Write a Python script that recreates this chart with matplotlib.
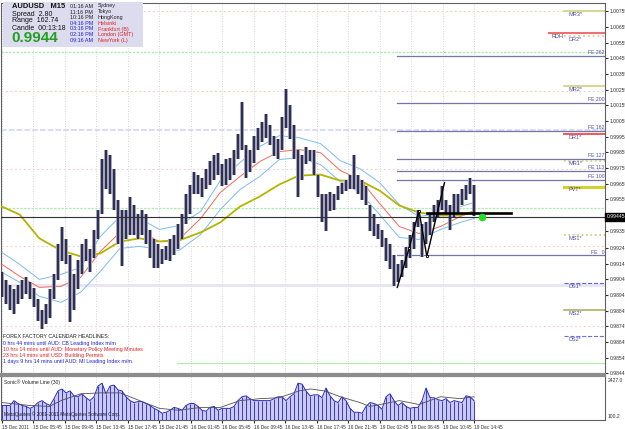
import numpy as np
import matplotlib
matplotlib.use("Agg")
import matplotlib.pyplot as plt
import matplotlib.transforms as mtrans

plt.rcParams['font.family'] = ['Liberation Sans', 'DejaVu Sans']

# candles, one every ~2 M15 bars (15 Dec 2011 -> 19 Dec 14:45)
highs = [0.9909, 0.9904, 0.9901, 0.9898, 0.9901, 0.9904, 0.9906, 0.9903, 0.9899, 0.9892,
         0.9885, 0.9889, 0.9898, 0.9908, 0.9927, 0.9938, 0.9930, 0.9920, 0.9908, 0.9917,
         0.9927, 0.9930, 0.9924, 0.9936, 0.9949, 0.9981, 0.9987, 0.9984, 0.9975, 0.9955,
         0.9949, 0.9949, 0.9957, 0.9952, 0.9946, 0.9949, 0.9946, 0.9936, 0.9930, 0.9927,
         0.9924, 0.9926, 0.9930, 0.9933, 0.9940, 0.9946, 0.9959, 0.9965, 0.9973, 0.9971,
         0.9969, 0.9975, 0.9980, 0.9984, 0.9985, 0.9978, 0.9981, 0.9982, 0.9987, 0.9997,
         1.0018, 0.9990, 0.9987, 0.9996, 1.0001, 1.0005, 1.0010, 1.0003, 0.9996, 0.9994,
         1.0008, 1.0026, 1.0016, 1.0003, 0.9987, 0.9984, 0.9989, 0.9987, 0.9987, 0.9971,
         0.9959, 0.9959, 0.9960, 0.9959, 0.9964, 0.9966, 0.9968, 0.9971, 0.9984, 0.9971,
         0.9968, 0.9964, 0.9952, 0.9946, 0.9940, 0.9936, 0.9931, 0.9927, 0.9920, 0.9914,
         0.9917, 0.9925, 0.9933, 0.9941, 0.9949, 0.9940, 0.9941, 0.9946, 0.9952, 0.9955,
         0.9964, 0.9955, 0.9952, 0.9959, 0.9959, 0.9962, 0.9965, 0.9969, 0.9965]
lows = [0.9893, 0.9889, 0.9885, 0.9882, 0.9889, 0.9892, 0.9895, 0.9892, 0.9887, 0.9878,
        0.9873, 0.9876, 0.9880, 0.9892, 0.9904, 0.9916, 0.9914, 0.9877, 0.9885, 0.9898,
        0.9908, 0.9916, 0.9909, 0.9918, 0.9930, 0.9946, 0.9962, 0.9959, 0.9949, 0.9927,
        0.9913, 0.9930, 0.9933, 0.9933, 0.9930, 0.9933, 0.9927, 0.9918, 0.9912, 0.9912,
        0.9914, 0.9917, 0.9916, 0.9920, 0.9924, 0.9930, 0.9940, 0.9946, 0.9959, 0.9959,
        0.9957, 0.9962, 0.9965, 0.9968, 0.9971, 0.9964, 0.9965, 0.9968, 0.9971, 0.9981,
        0.9987, 0.9969, 0.9973, 0.9979, 0.9987, 0.9992, 0.9995, 0.9990, 0.9983, 0.9981,
        0.9987, 1.0001, 0.9994, 0.9981, 0.9957, 0.9968, 0.9978, 0.9980, 0.9971, 0.9957,
        0.9941, 0.9935, 0.9948, 0.9949, 0.9955, 0.9959, 0.9961, 0.9962, 0.9962, 0.9959,
        0.9955, 0.9952, 0.9935, 0.9932, 0.9930, 0.9925, 0.9916, 0.9911, 0.9900, 0.9903,
        0.9906, 0.9912, 0.9918, 0.9924, 0.9938, 0.9919, 0.9927, 0.9933, 0.9941, 0.9944,
        0.9949, 0.9946, 0.9936, 0.9944, 0.9946, 0.9952, 0.9955, 0.9959, 0.9945]
volume = [876, 876, 876, 1153, 987, 876, 820, 710, 820, 1042,
          1153, 987, 876, 1264, 1707, 1818, 1596, 1707, 1430, 1374,
          1541, 1319, 1153, 1374, 1984, 2150, 1541, 1984, 2039, 1762,
          1707, 1374, 1153, 1042, 1097, 1097, 987, 876, 710, 599,
          432, 488, 599, 765, 710, 599, 876, 987, 987, 820,
          599, 543, 765, 820, 599, 710, 710, 710, 820, 1153,
          1374, 1430, 1264, 1153, 1153, 1153, 1153, 1153, 1264, 1374,
          1374, 1153, 1374, 1541, 2150, 2094, 1707, 1430, 1485, 1485,
          1319, 1873, 1430, 1153, 1042, 1374, 1153, 710, 488, 488,
          432, 820, 1042, 987, 876, 654, 1374, 1541, 1153, 876,
          1042, 820, 710, 765, 765, 1153, 1873, 1319, 1319, 1208,
          1153, 1264, 1042, 1153, 1097, 1042, 1430, 1374, 1153]

# indicator lines (bar positions, price)
ind_bars = [0, 9, 19, 30, 40, 50, 60, 70, 80, 90, 101, 111, 121, 131, 141, 151, 162, 172,
            182, 192, 202, 212, 223, 233, 240]
ma_slow = [0.99509, 0.99458, 0.99306, 0.99229, 0.99191, 0.99210, 0.99286, 0.99306, 0.99286,
           0.99293, 0.99344, 0.99408, 0.99509, 0.99573, 0.99650, 0.99707, 0.99713, 0.99675,
           0.99675, 0.99611, 0.99516, 0.99471, 0.99452, 0.99452, 0.99478]
ma_mid = [0.99140, 0.99064, 0.98993, 0.99000, 0.99057, 0.99223, 0.99344, 0.99350, 0.99286,
          0.99299, 0.99433, 0.99599, 0.99701, 0.99796, 0.99860, 0.99873, 0.99853, 0.99739,
          0.99681, 0.99529, 0.99382, 0.99337, 0.99382, 0.99446, 0.99478]
band_up = [0.99216, 0.99140, 0.99044, 0.99076, 0.99121, 0.99318, 0.99446, 0.99433, 0.99363,
           0.99388, 0.99478, 0.99675, 0.99790, 0.99892, 0.99962, 0.99949, 0.99911, 0.99802,
           0.99751, 0.99662, 0.99522, 0.99446, 0.99465, 0.99509, 0.99535]
band_dn = [0.99089, 0.99025, 0.98936, 0.98898, 0.98962, 0.99095, 0.99242, 0.99255, 0.99236,
           0.99229, 0.99331, 0.99490, 0.99618, 0.99701, 0.99809, 0.99822, 0.99777, 0.99669,
           0.99599, 0.99458, 0.99312, 0.99299, 0.99363, 0.99408, 0.99433]

vol_ma_bars = [0, 14, 24, 30, 40, 50, 60, 70, 80, 90, 101, 111, 121, 131, 141, 151, 157, 164,
               172, 182, 187, 195, 202, 212, 223, 233, 240]
vol_ma = [1042, 876, 820, 1153, 1541, 1596, 1596, 1153, 710, 599, 765, 765, 1153, 1264, 1319,
          1707, 1818, 1707, 1374, 1042, 820, 987, 1153, 931, 1374, 1264, 1374]

# zigzag
zz_bars = [201, 207, 212, 216, 225]
zz_price = [0.98993, 0.99242, 0.99484, 0.99191, 0.99662]

# pivot levels (right side)
piv_names = ['MR3*', 'DR2*', 'MR2*', 'DR1*', 'MR1*', 'PVT*', 'MS1*', 'DS1*', 'MS2*', 'DS2*']
piv_price = [1.00758, 1.00599, 1.00280, 0.99974, 0.99802, 0.99637, 0.99325, 0.99019, 0.98847, 0.98681]
rdh_price = 1.00618

fe_names = ['FE 262', 'FE 200', 'FE 162', 'FE 127', 'FE 113', 'FE 100', 'FE   0']
fe_price = [1.00471, 1.00172, 0.99994, 0.99815, 0.99739, 0.99681, 0.99197]

pink_levels = [1.00758, 1.00248, 0.99751, 0.99255, 0.98745]
green_levels = [1.00497, 0.99497]
lav_levels = [1.00000, 0.99006]
low_green = 0.98509

bid = 0.99445
last_bar = 240

price_ticks = [1.00755, 1.00655, 1.00555, 1.00455, 1.00355, 1.00255, 1.00155, 1.00055, 0.99955,
               0.99855, 0.99755, 0.99655, 0.99555, 0.99355, 0.99245, 0.99145, 0.99045, 0.98945,
               0.98845, 0.98745, 0.98645, 0.98545, 0.98445]
time_labels = ['15 Dec 2011', '15 Dec 05:45', '15 Dec 09:45', '15 Dec 13:45', '15 Dec 17:45',
               '15 Dec 21:45', '16 Dec 01:45', '16 Dec 05:45', '16 Dec 09:45', '16 Dec 13:45',
               '16 Dec 17:45', '16 Dec 21:45', '19 Dec 02:45', '19 Dec 06:45', '19 Dec 10:45',
               '19 Dec 14:45']

W, H = 625, 429
fig = plt.figure(figsize=(W / 100, H / 100), dpi=100)
fig.patch.set_facecolor('white')
ax = fig.add_axes([1 / W, 1 - 374 / H, 604 / W, 371 / H])
axv = fig.add_axes([1 / W, 1 - 420 / H, 604 / W, 44 / H], sharex=ax)

xlim = (-0.5, 306.6)
ax.set_xlim(*xlim)
ax.set_ylim(0.98440, 1.00809)

pos = np.linspace(0, last_bar, len(highs))
tick_bars = np.arange(len(time_labels)) * 16

# grid
for a in (ax, axv):
    for tb in tick_bars:
        a.axvline(tb, color='#c8c8c8', lw=0.6, ls=(0, (1, 2)), zorder=0)

# faint full width levels
for p in pink_levels:
    ax.axhline(p, color='#f2d6cc', lw=0.8, ls=(0, (2, 2)), zorder=1)
for p in green_levels:
    ax.axhline(p, color='#b0ecb0', lw=0.9, ls=(0, (2, 1)), zorder=1)
ax.axhline(lav_levels[0], color='#dcdcf6', lw=1.4, ls=(0, (3, 1)), zorder=1)
ax.axhline(lav_levels[1], color='#e8e4f6', lw=2.0, zorder=1)
ax.plot([89, xlim[1]], [low_green, low_green], color='#b0ecb0', lw=0.9, zorder=1)

# FE lines
for name, p in zip(fe_names, fe_price):
    ax.plot([zz_bars[0], xlim[1]], [p, p], color='#7474a8', lw=0.9, zorder=2)
    ax.text(xlim[1] - 0.5, p + 0.00003, name, fontsize=3.7, color='#5050a0', ha='right', va='bottom')

# pivots
piv_colors = ['#d4d488', '#f0c0a0', '#d4d488', '#f05858', '#cccc88', '#d4d030', '#c8c878',
              '#6060e0', '#a8a858', '#7070e0']
piv_styles = ['-', ':', '-', '-', ':', '-', ':', '--', '-', '--']
piv_widths = [1.3, 1.3, 1.3, 1.4, 1.2, 2.2, 1.2, 0.8, 1.1, 0.8]
for name, p, c, s, w in zip(piv_names, piv_price, piv_colors, piv_styles, piv_widths):
    ax.plot([286, xlim[1]], [p, p], color=c, ls=s, lw=w, zorder=2)
    ax.text(288, p - 0.00005, name, fontsize=4.0, color='#5050a0', ha='left', va='top')
ax.plot([278, xlim[1]], [rdh_price, rdh_price], color='#f07070', lw=1.5, zorder=2)
ax.text(279.5, rdh_price - 0.00005, 'RDH', fontsize=4.0, color='#404070', ha='left', va='top')

# indicators
ax.plot(ind_bars, band_up, color='#7cbcf0', lw=0.7, zorder=3)
ax.plot(ind_bars, band_dn, color='#7cbcf0', lw=0.7, zorder=3)
ax.plot(ind_bars, ma_mid, color='#f06a5a', lw=0.7, zorder=3)
ax.plot(ind_bars, ma_slow, color='#b4b400', lw=1.3, zorder=3)

# candles
ax.vlines(pos, lows, highs, color='#a4a4bc', lw=2.9, zorder=4)
ax.vlines(pos, lows, highs, color='#2c2c4c', lw=1.4, zorder=5)

# current price, zigzag, drawn line, dot
ax.axhline(bid, color='#303030', lw=0.8, zorder=4)
ax.plot(zz_bars, zz_price, color='black', lw=1.0, zorder=6)
ax.plot(zz_bars[1:4], zz_price[1:4], ls='none', marker='s', ms=2.0, mfc='white', mec='black', mew=0.6, zorder=7)
ax.plot([216, 259], [0.99465, 0.99465], color='black', lw=1.9, zorder=6)
ax.plot([244], [bid], 'o', color='#22dd22', ms=4.5, zorder=7)

# axes styling
ax.yaxis.tick_right()
ax.set_yticks(price_ticks)
ax.set_yticklabels(['%.5f' % t for t in price_ticks])
ax.tick_params(axis='y', labelsize=3.6, length=2.0, pad=1.2, colors='#303030')
ax.tick_params(axis='x', bottom=False, labelbottom=False)
for s in ax.spines.values():
    s.set_color('#606060')
    s.set_linewidth(0.8)
ax.spines['bottom'].set_color('#8c8c8c')
ax.spines['bottom'].set_linewidth(1.6)

ax.text(1.003, bid, '0.99445', transform=mtrans.blended_transform_factory(ax.transAxes, ax.transData),
        fontsize=3.6, color='white', va='center', ha='left',
        bbox=dict(boxstyle='square,pad=0.3', fc='black', ec='black'), clip_on=False, zorder=10)

# volume panel
axv.set_ylim(44.8, 2560)
axv.fill_between(pos, volume, 44.8, color='#cacaf2', lw=0, zorder=1)
axv.vlines(pos, 44.8, volume, color='#3a3ad4', lw=0.7, zorder=2)
axv.plot(pos, volume, color='#2a2ac8', lw=0.7, zorder=3)
axv.plot(vol_ma_bars, vol_ma, color='#505050', lw=0.6, zorder=4)
axv.yaxis.tick_right()
axv.set_yticks([100.2, 2427.0])
axv.set_yticklabels(['100.2', '2427.0'])
axv.tick_params(axis='y', labelsize=3.6, length=0, pad=2, colors='#303030')
axv.get_yticklabels()[0].set_verticalalignment('bottom')
axv.get_yticklabels()[1].set_verticalalignment('top')
axv.set_xticks(tick_bars)
axv.set_xticklabels(time_labels, ha='left')
axv.tick_params(axis='x', labelsize=3.4, length=2.5, pad=1, colors='#303030')
for s in axv.spines.values():
    s.set_color('#606060')
    s.set_linewidth(0.8)
axv.spines['top'].set_color('#8c8c8c')
axv.spines['top'].set_linewidth(1.6)
axv.text(0.005, 0.93, 'Sonic\u00ae Volume Line (30)', transform=axv.transAxes, fontsize=3.6,
         color='#202020', va='top')
axv.text(0.005, 0.06, 'MetaQuotes \u00a9 2001-2011 MetaQuotes Software Corp.', transform=axv.transAxes,
         fontsize=3.4, color='#202020', va='bottom', zorder=6)

# info box, top left
fig.patches.append(plt.Rectangle((3 / W, 1 - 47 / H), 140 / W, 45 / H, transform=fig.transFigure,
                                 facecolor='#dcdcee', edgecolor='none', zorder=5))


def ftext(px, py, s, **kw):
    fig.text(px / W, 1 - py / H, s, va='center', ha='left', zorder=6, **kw)


ftext(12, 6, 'AUDUSD   M15', fontsize=5.4, fontweight='bold', color='#101010')
ftext(12, 14, 'Spread  2.80', fontsize=5.0, color='#101010')
ftext(12, 21, 'Range  162.74', fontsize=5.0, color='#101010')
ftext(12, 28, 'Candle  00:13:18', fontsize=5.0, color='#101010')
ftext(11, 38.5, '0.9944', fontsize=11, fontweight='bold', color='#22a022')

sess_times = ['01:16 AM', '11:16 PM', '10:16 PM', '04:16 PM', '03:16 PM', '02:16 PM', '09:16 AM']
sess_names = ['Sydney', 'Tokyo', 'HongKong', 'Helsinki', 'Frankfurt (B)', 'London (GMT)', 'NewYork (L)']
sess_rows = [6, 12, 17.7, 23.3, 29, 34.7, 40.5]
for i in range(len(sess_times)):
    tc = '#202020' if i < 3 else '#2020d0'
    nc = '#202020' if i < 3 else '#e02020'
    ftext(70, sess_rows[i], sess_times[i], fontsize=3.9, color=tc)
    ftext(98, sess_rows[i], sess_names[i], fontsize=3.9, color=nc)

# calendar headlines
cal_lines = ['0 hrs 44 mins until AUD: CB Leading Index m/m',
             '10 hrs 14 mins until AUD: Monetary Policy Meeting Minutes',
             '23 hrs 14 mins until USD: Building Permits',
             '1 days 9 hrs 14 mins until AUD: MI Leading Index m/m']
cal_colors = ['#2020d0', '#e02020', '#e02020', '#2020d0']
ftext(3, 336, 'FOREX FACTORY CALENDAR HEADLINES:', fontsize=3.8, color='#202020')
for i in range(len(cal_lines)):
    ftext(3, 343 + 6 * i, cal_lines[i], fontsize=3.8, color=cal_colors[i])

fig.savefig('out.png', dpi=100)
